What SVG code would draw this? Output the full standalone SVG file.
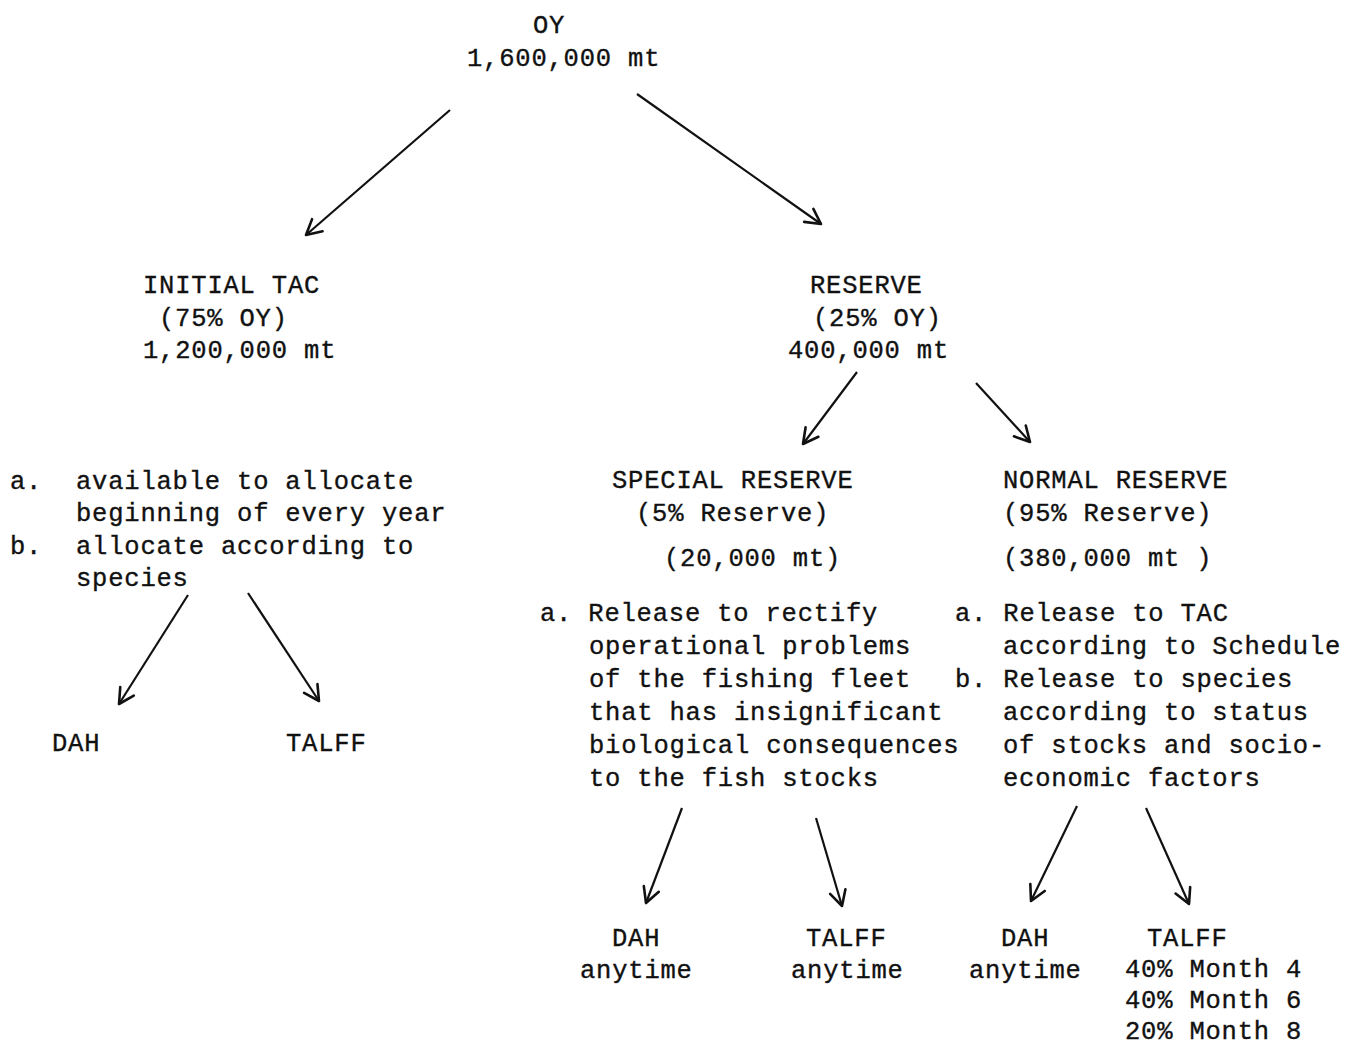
<svg xmlns="http://www.w3.org/2000/svg" width="1347" height="1045" viewBox="0 0 1347 1045">
<style>
text{font-family:"Liberation Mono","DejaVu Sans Mono",monospace;font-size:25.5px;letter-spacing:0.8px;fill:#111;stroke:#111;stroke-width:0.35px;}
.c line{stroke:#111;stroke-width:2.2;fill:none;marker-end:url(#ah);}
</style>
<defs>
<marker id="ah" markerUnits="userSpaceOnUse" markerWidth="30" markerHeight="30" refX="0" refY="0" viewBox="-20 -15 30 30" orient="auto" overflow="visible">
<path d="M-15,-8 L0,0 L-15,8" fill="none" stroke="#111" stroke-width="2.6" stroke-linecap="round" stroke-linejoin="round"/>
</marker>
</defs>
<rect width="1347" height="1045" fill="#fff"/>
<g class="c" id="connectors">
<line x1="450" y1="110" x2="306" y2="235"/>
<line x1="637" y1="94" x2="821" y2="224"/>
<line x1="857" y1="372" x2="803" y2="444"/>
<line x1="976" y1="383" x2="1030" y2="442"/>
<line x1="188" y1="595" x2="119" y2="704"/>
<line x1="248" y1="593" x2="319" y2="701"/>
<line x1="682" y1="808" x2="646" y2="903"/>
<line x1="816" y1="818" x2="842" y2="906"/>
<line x1="1077" y1="806" x2="1031" y2="901"/>
<line x1="1146" y1="808" x2="1189" y2="904"/>
</g>
<g id="oy">
<text x="533" y="33">OY</text>
<text x="467" y="66">1,600,000 mt</text>
</g>
<g id="initial-tac">
<text x="143" y="293">INITIAL TAC</text>
<text x="159" y="326">(75% OY)</text>
<text x="143" y="358">1,200,000 mt</text>
</g>
<g id="reserve">
<text x="810" y="293">RESERVE</text>
<text x="813" y="326">(25% OY)</text>
<text x="788" y="358">400,000 mt</text>
</g>
<g id="initial-tac-notes">
<text x="10" y="489">a.</text><text x="76" y="489">available to allocate</text>
<text x="76" y="521">beginning of every year</text>
<text x="10" y="554">b.</text><text x="76" y="554">allocate according to</text>
<text x="76" y="586">species</text>
</g>
<g id="dah-1"><text x="52" y="751">DAH</text></g>
<g id="talff-1"><text x="286" y="751">TALFF</text></g>
<g id="special-reserve">
<text x="612" y="488">SPECIAL RESERVE</text>
<text x="636" y="521">(5% Reserve)</text>
<text x="664" y="566">(20,000 mt)</text>
</g>
<g id="special-notes">
<text x="540" y="621">a. Release to rectify</text>
<text x="589" y="654">operational problems</text>
<text x="589" y="687">of the fishing fleet</text>
<text x="589" y="720">that has insignificant</text>
<text x="589" y="753">biological consequences</text>
<text x="589" y="786">to the fish stocks</text>
</g>
<g id="normal-reserve">
<text x="1003" y="488">NORMAL RESERVE</text>
<text x="1003" y="521">(95% Reserve)</text>
<text x="1003" y="566">(380,000 mt )</text>
</g>
<g id="normal-notes">
<text x="955" y="621">a. Release to TAC</text>
<text x="1003" y="654">according to Schedule</text>
<text x="955" y="687">b. Release to species</text>
<text x="1003" y="720">according to status</text>
<text x="1003" y="753">of stocks and socio-</text>
<text x="1003" y="786">economic factors</text>
</g>
<g id="dah-2">
<text x="612" y="946">DAH</text>
<text x="580" y="978">anytime</text>
</g>
<g id="talff-2">
<text x="806" y="946">TALFF</text>
<text x="791" y="978">anytime</text>
</g>
<g id="dah-3">
<text x="1001" y="946">DAH</text>
<text x="969" y="978">anytime</text>
</g>
<g id="talff-3">
<text x="1147" y="946">TALFF</text>
<text x="1125" y="977">40% Month 4</text>
<text x="1125" y="1008">40% Month 6</text>
<text x="1125" y="1039">20% Month 8</text>
</g>
</svg>
